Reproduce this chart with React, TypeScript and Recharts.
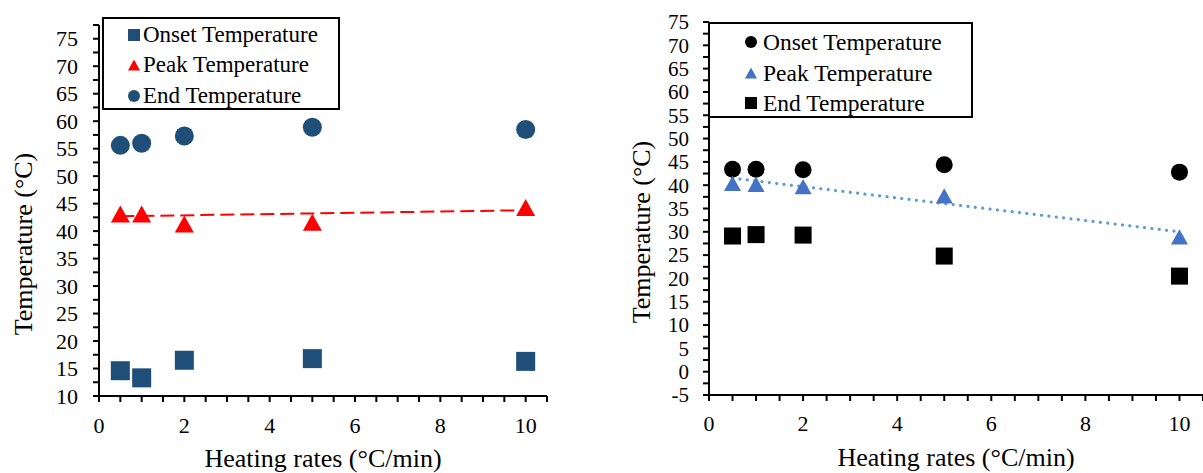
import React from "react";
import { ScatterChart, Scatter, XAxis, YAxis, ReferenceLine, Legend, Label } from "recharts";

const FONT = "'Liberation Serif', 'Times New Roman', serif";

// heating rates (°C/min)
const rates = [0.5, 1, 2, 5, 10];

// left chart
const leftOnset = [14.6, 13.3, 16.5, 16.8, 16.3];
const leftPeak = [43.1, 43.1, 41.3, 41.6, 44.3];
const leftEnd = [55.6, 56.0, 57.3, 58.9, 58.5];
const leftTrendX = [0.5, 10];
const leftTrendY = [42.7, 43.8];

// right chart
const rightOnset = [43.4, 43.4, 43.3, 44.4, 42.8];
const rightPeak = [40.4, 40.2, 39.7, 37.7, 28.9];
const rightEnd = [29.1, 29.4, 29.3, 24.8, 20.5];
const rightTrendX = [0.5, 10];
const rightTrendY = [41.5, 30.0];

// ticks
const xMajor = [0, 2, 4, 6, 8, 10];
const xMinor = [0.5, 1, 1.5, 2.5, 3, 3.5, 4.5, 5, 5.5, 6.5, 7, 7.5, 8.5, 9, 9.5, 10.5];
const leftYMajor = [10, 15, 20, 25, 30, 35, 40, 45, 50, 55, 60, 65, 70, 75];
const leftYMinor = [12.5, 17.5, 22.5, 27.5, 32.5, 37.5, 42.5, 47.5, 52.5, 57.5, 62.5, 67.5, 72.5, 77.5];
const rightYMajor = [-5, 0, 5, 10, 15, 20, 25, 30, 35, 40, 45, 50, 55, 60, 65, 70, 75];
const rightYMinor = [-2.5, 2.5, 7.5, 12.5, 17.5, 22.5, 27.5, 32.5, 37.5, 42.5, 47.5, 52.5, 57.5, 62.5, 67.5, 72.5];

const seriesNames = ["Onset Temperature", "Peak Temperature", "End Temperature"];
const xTitle = "Heating rates (°C/min)";
const yTitle = "Temperature (°C)";

const toPoints = (ys: number[]) => rates.map((x, i) => ({ x, y: ys[i] }));
const sorted = (a: number[], b: number[]) => [...a, ...b].sort((p, q) => p - q);

type MarkerKind = "square" | "circle" | "triangle";

const drawMarker = (kind: MarkerKind, cx: number, cy: number, size: number, fill: string) => {
  const h = size / 2;
  if (kind === "square") return <rect x={cx - h} y={cy - h} width={size} height={size} fill={fill} />;
  if (kind === "circle") return <circle cx={cx} cy={cy} r={h} fill={fill} />;
  const th = size * 0.9;
  return (
    <polygon
      points={`${cx},${cy - th / 2} ${cx + h},${cy + th / 2} ${cx - h},${cy + th / 2}`}
      fill={fill}
    />
  );
};

const shapeOf = (kind: MarkerKind, size: number, fill: string) => (p: any) =>
  <g>{drawMarker(kind, p.cx, p.cy, size, fill)}</g>;

const textStyle = (fontSize: number) => ({ fontFamily: FONT, fontSize, fill: "#000" });

// tick marks come from the axis itself; these only draw the labels of major ticks
const makeYTick = (majors: number[], gap: number, fontSize: number) => (props: any) => {
  const { x, y, payload } = props;
  if (!majors.includes(payload.value)) return <g />;
  return (
    <text x={x - gap} y={y} dy="0.35em" textAnchor="end" fontFamily={FONT} fontSize={fontSize} style={textStyle(fontSize)}>
      {payload.value}
    </text>
  );
};

const makeXTick = (majors: number[], gap: number, fontSize: number) => (props: any) => {
  const { x, y, payload } = props;
  if (!majors.includes(payload.value)) return <g />;
  return (
    <text x={x} y={y + gap} dy="0.35em" textAnchor="middle" fontFamily={FONT} fontSize={fontSize} style={textStyle(fontSize)}>
      {payload.value}
    </text>
  );
};

interface LegendRow {
  name: string;
  kind: MarkerKind;
  color: string;
}

const LegendBox = ({ rows, width, height, rowY, markerX, textX, markerSize, fontSize }: any) => (
  <div
    style={{
      position: "relative",
      width,
      height,
      border: "2px solid #000",
      boxSizing: "border-box",
      background: "#fff",
      fontFamily: FONT,
      fontSize,
      color: "#000",
    }}
  >
    {rows.map((r: LegendRow, i: number) => (
      <React.Fragment key={r.name}>
        <svg
          width={markerSize + 2}
          height={markerSize + 2}
          style={{ position: "absolute", left: markerX - markerSize / 2 - 1, top: rowY[i] - markerSize / 2 - 1 }}
        >
          {drawMarker(r.kind, markerSize / 2 + 1, markerSize / 2 + 1, markerSize, r.color)}
        </svg>
        <div style={{ position: "absolute", left: textX, top: rowY[i] - 15, height: 30, lineHeight: "30px", whiteSpace: "nowrap" }}>
          {r.name}
        </div>
      </React.Fragment>
    ))}
  </div>
);

const xTitleLabel = (dy: number, fontSize: number) => (p: any) => {
  const vb = p.viewBox;
  return (
    <text x={vb.x + vb.width / 2} y={vb.y + dy} dy="0.35em" textAnchor="middle" fontFamily={FONT} fontSize={fontSize} style={textStyle(fontSize)}>
      {xTitle}
    </text>
  );
};

const yTitleLabel = (cx: number, cy: number, fontSize: number) => () => (
  <text
    x={cx}
    y={cy}
    dy="0.35em"
    textAnchor="middle"
    transform={`rotate(-90 ${cx} ${cy})`}
    fontFamily={FONT}
    fontSize={fontSize}
    style={textStyle(fontSize)}
  >
    {yTitle}
  </text>
);

const axisStroke = { stroke: "#000", strokeWidth: 2 };

const LEFT_BLUE = "#1F4E79";
const leftRows: LegendRow[] = [
  { name: seriesNames[0], kind: "square", color: LEFT_BLUE },
  { name: seriesNames[1], kind: "triangle", color: "#FF0000" },
  { name: seriesNames[2], kind: "circle", color: LEFT_BLUE },
];
const rightRows: LegendRow[] = [
  { name: seriesNames[0], kind: "circle", color: "#000000" },
  { name: seriesNames[1], kind: "triangle", color: "#4472C4" },
  { name: seriesNames[2], kind: "square", color: "#000000" },
];

const LeftChart = () => (
  <ScatterChart width={560} height={473} margin={{ top: 25, right: 13, bottom: 0, left: 0 }} style={{ fontFamily: FONT }}>
    <XAxis
      type="number"
      dataKey="x"
      domain={[0, 10.5]}
      ticks={sorted(xMajor, xMinor)}
      interval={0}
      tickSize={6}
      tickMargin={0}
      tickLine={axisStroke}
      height={77}
      axisLine={axisStroke}
      tick={makeXTick(xMajor, 23, 22)}
    >
      <Label content={xTitleLabel(62, 26)} />
    </XAxis>
    <YAxis
      type="number"
      dataKey="y"
      domain={[10, 77.5]}
      ticks={sorted(leftYMajor, leftYMinor)}
      interval={0}
      tickSize={6}
      tickMargin={0}
      tickLine={axisStroke}
      width={99}
      axisLine={axisStroke}
      tick={makeYTick(leftYMajor, 15, 22)}
    >
      <Label content={yTitleLabel(23, 244, 26)} />
    </YAxis>
    <ReferenceLine
      segment={[
        { x: leftTrendX[0], y: leftTrendY[0] },
        { x: leftTrendX[1], y: leftTrendY[1] },
      ]}
      stroke="#FF0000"
      strokeWidth={2}
      strokeDasharray="14 6"
      ifOverflow="visible"
    />
    <Scatter name={seriesNames[0]} data={toPoints(leftOnset)} isAnimationActive={false} shape={shapeOf("square", 19, LEFT_BLUE)} />
    <Scatter name={seriesNames[1]} data={toPoints(leftPeak)} isAnimationActive={false} shape={shapeOf("triangle", 19, "#FF0000")} />
    <Scatter name={seriesNames[2]} data={toPoints(leftEnd)} isAnimationActive={false} shape={shapeOf("circle", 19, LEFT_BLUE)} />
    <Legend
      layout="horizontal"
      verticalAlign="middle"
      align="center"
      wrapperStyle={{ left: 102, top: 17, width: 238, height: 93 }}
      content={() => (
        <LegendBox rows={leftRows} width={238} height={93} rowY={[16, 46, 77]} markerX={30} textX={39} markerSize={12} fontSize={23} />
      )}
    />
  </ScatterChart>
);

const RightChart = () => (
  <ScatterChart width={603} height={473} margin={{ top: 22, right: 0, bottom: 0, left: 0 }} style={{ fontFamily: FONT }}>
    <XAxis
      type="number"
      dataKey="x"
      domain={[0, 10.5]}
      ticks={sorted(xMajor, xMinor)}
      interval={0}
      tickSize={6}
      tickMargin={0}
      tickLine={axisStroke}
      height={78}
      axisLine={axisStroke}
      tick={makeXTick(xMajor, 22, 22)}
    >
      <Label content={xTitleLabel(62, 26)} />
    </XAxis>
    <YAxis
      type="number"
      dataKey="y"
      domain={[-5, 75]}
      ticks={sorted(rightYMajor, rightYMinor)}
      interval={0}
      tickSize={6}
      tickMargin={0}
      tickLine={axisStroke}
      width={109}
      axisLine={axisStroke}
      tick={makeYTick(rightYMajor, 14, 21)}
    >
      <Label content={yTitleLabel(41, 232, 26)} />
    </YAxis>
    <Scatter name={seriesNames[0]} data={toPoints(rightOnset)} isAnimationActive={false} shape={shapeOf("circle", 17, "#000000")} />
    <Scatter name={seriesNames[1]} data={toPoints(rightPeak)} isAnimationActive={false} shape={shapeOf("triangle", 17, "#4472C4")} />
    <Scatter name={seriesNames[2]} data={toPoints(rightEnd)} isAnimationActive={false} shape={shapeOf("square", 17, "#000000")} />
    <ReferenceLine
      segment={[
        { x: rightTrendX[0], y: rightTrendY[0] },
        { x: rightTrendX[1], y: rightTrendY[1] },
      ]}
      stroke="#5B9BD5"
      strokeWidth={3.2}
      strokeDasharray="0.01 7.4"
      strokeLinecap="round"
      ifOverflow="visible"
    />
    <Legend
      layout="horizontal"
      verticalAlign="middle"
      align="center"
      wrapperStyle={{ left: 108, top: 22, width: 265, height: 96 }}
      content={() => (
        <LegendBox rows={rightRows} width={265} height={96} rowY={[18, 49, 79]} markerX={41} textX={53} markerSize={12} fontSize={23.5} />
      )}
    />
  </ScatterChart>
);

export default function App() {
  return (
    <div style={{ position: "absolute", left: 0, top: 0, width: 1203, height: 473, background: "#fff", fontFamily: FONT }}>
      <div style={{ position: "absolute", left: 0, top: 0 }}>
        <LeftChart />
      </div>
      <div style={{ position: "absolute", left: 600, top: 0 }}>
        <RightChart />
      </div>
    </div>
  );
}
